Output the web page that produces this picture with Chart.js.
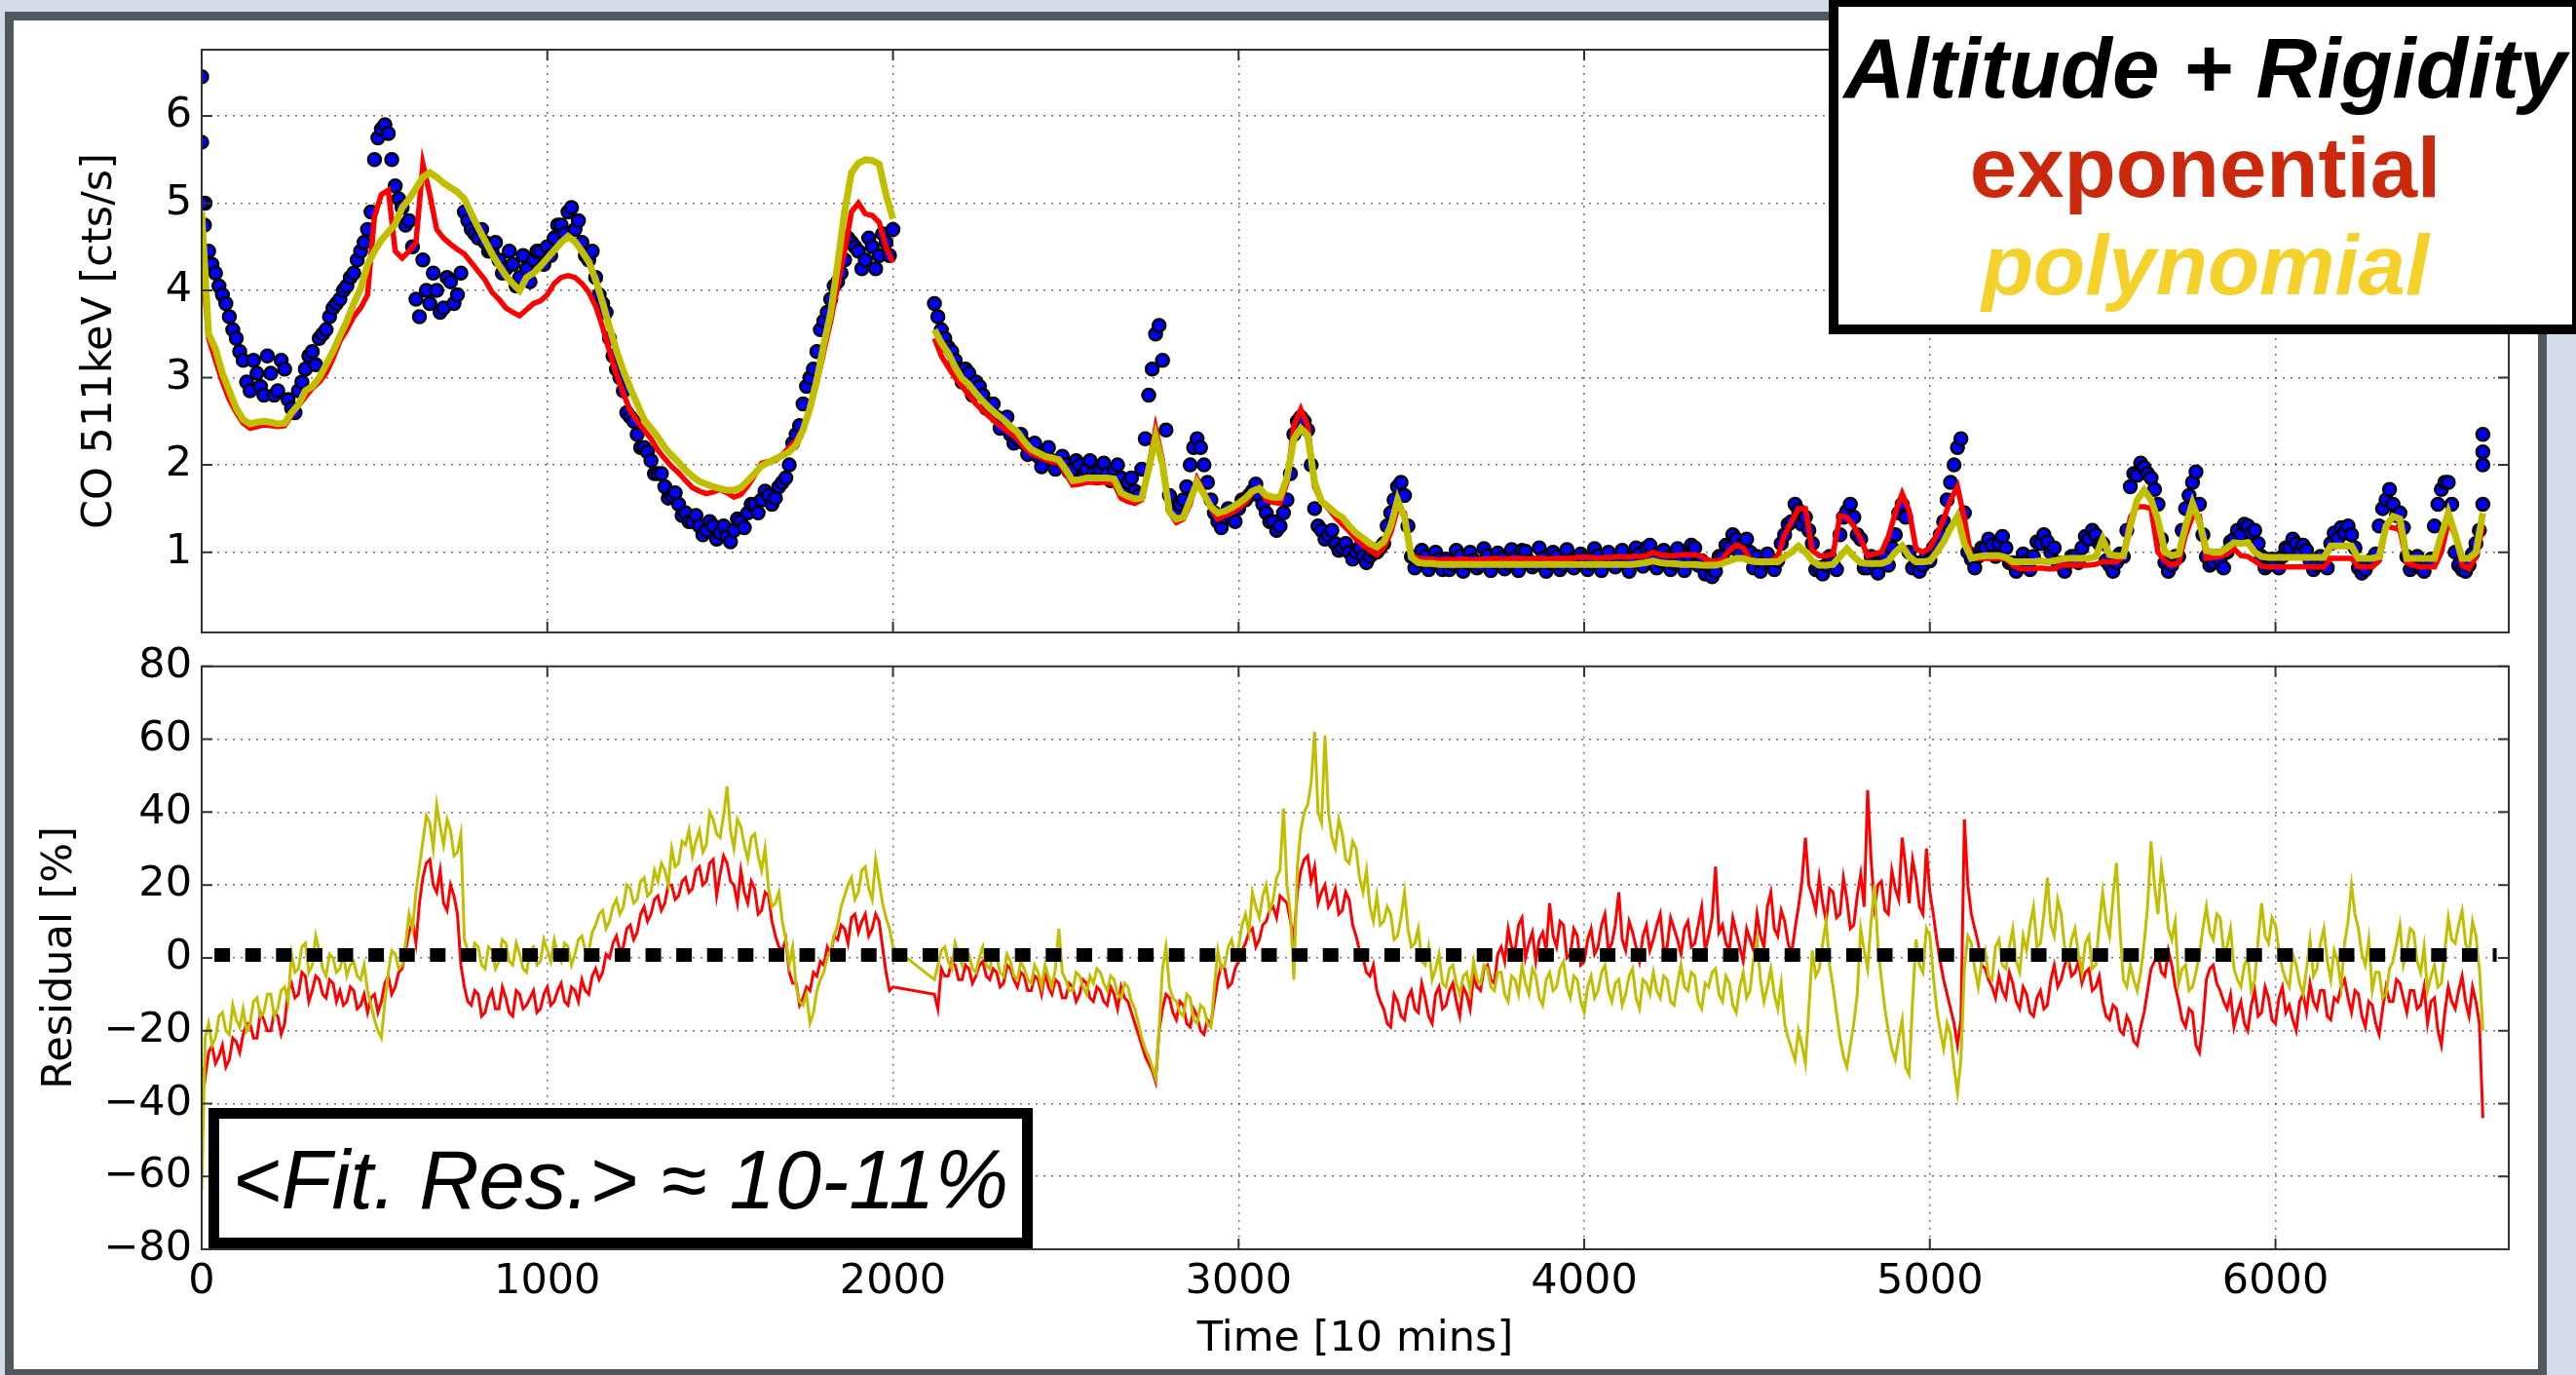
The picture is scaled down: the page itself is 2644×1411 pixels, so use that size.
<!DOCTYPE html>
<html lang="en">
<head>
  <meta charset="UTF-8">
  <title>CO 511keV rate: altitude + rigidity fits</title>
  <script src="https://cdn.jsdelivr.net/npm/chart.js@4.4.1/dist/chart.umd.min.js"></script>
  <style>
    html, body {
      margin: 0;
      padding: 0;
    }

    body {
      width: 2644px;
      height: 1411px;
      overflow: hidden;
      position: relative;
      background: #d3dce8;
    }

    #frame {
      position: absolute;
      left: 5px;
      top: 12px;
      width: 2609px;
      height: 1402px;
      box-sizing: border-box;
      border: 9px solid #51575f;
      background: #fff;
    }

    canvas {
      position: absolute;
      left: 0;
    }

    #topChart { top: 0; }
    #resChart { top: 648px; }

    .box {
      position: absolute;
      box-sizing: border-box;
      background: #fff;
      border: 10px solid #000;
    }

    #legendBox {
      left: 1877px;
      top: -3px;
      width: 773px;
      height: 346px;
    }

    #fitBox {
      left: 214px;
      top: 1137px;
      width: 846px;
      height: 144px;
      border-width: 11px;
    }

    .line {
      position: absolute;
      left: 0;
      width: 100%;
      text-align: center;
      white-space: nowrap;
      font-family: 'Liberation Sans', Arial, sans-serif;
      font-size: 87px;
      line-height: 87px;
      font-weight: bold;
    }

    #l1 { top: 19px; font-style: italic; color: #000; }
    #l2 { top: 121px; color: #cb290e; }
    #l3 { top: 221px; font-style: italic; color: #f4d22b; }

    #fitText {
      position: absolute;
      left: 0;
      top: 20px;
      width: 100%;
      text-align: center;
      white-space: nowrap;
      font-family: 'Liberation Sans', Arial, sans-serif;
      font-size: 85px;
      line-height: 85px;
      font-style: italic;
      color: #000;
    }
  </style>
</head>
<body>
  <div id="frame"></div>
  <canvas id="topChart" width="2644" height="690"></canvas>
  <canvas id="resChart" width="2644" height="763"></canvas>

  <div class="box" id="legendBox">
    <div class="line" id="l1">Altitude + Rigidity</div>
    <div class="line" id="l2">exponential</div>
    <div class="line" id="l3">polynomial</div>
  </div>
  <div class="box" id="fitBox">
    <div id="fitText">&lt;Fit. Res.&gt; ≈ 10-11%</div>
  </div>

  <script>
    // series are sampled every 20 time bins (10 min each) from t = 0;
    // the *_B arrays are the in-between samples at t = 10, 30, 50, ...
    const STEP = 20;
    const X_MAX = 6675;

    const X_TICKS = [0, 1000, 2000, 3000, 4000, 5000, 6000];
    const TOP_Y_TICKS = [1, 2, 3, 4, 5, 6];
    const RES_Y_TICKS = [-80, -60, -40, -20, 0, 20, 40, 60, 80];

    // measured CO 511 keV rate [cts/s]
    const RATE_511 = [
      6.45, 4.45, 4.2, 3.95, 3.7, 3.45, 3.2, 2.85, 3.05, 2.8,
      3.05, 2.85, 3.1, 2.65, 2.85, 3.1, 3.3, 3.45, 3.55, 3.8,
      3.9, 4.05, 4.2, 4.45, 4.7, 5.5, 5.85, 5.8, 5.2, 4.95,
      4.8, 3.9, 4.35, 3.85, 4.0, 3.8, 4.1, 3.95, 4.9, 4.7,
      4.6, 4.55, 4.45, 4.35, 4.25, 4.3, 4.15, 4.25, 4.35, 4.45,
      4.5, 4.6, 4.75, 4.9, 4.7, 4.55, 4.35, 4.15, 3.85, 3.45,
      3.1, 2.85, 2.55, 2.35, 2.2, 2.05, 1.9, 1.75, 1.65, 1.55,
      1.45, 1.35, 1.3, 1.25, 1.3, 1.22, 1.18, 1.25, 1.35, 1.45,
      1.55, 1.6, 1.65, 1.62, 1.8, 2.0, 2.35, 2.7, 3.0, 3.3,
      3.65, 3.9, 4.1, 4.35, 4.55, 4.45, 4.35, 4.5, 4.4, 4.55,
      4.7, null, null, null, null, null, 3.85, 3.55, 3.35, 3.2,
      2.95, 3.05, 2.95, 2.8, 2.65, 2.55, 2.5, 2.35, 2.3, 2.25,
      2.2, 2.1, 2.15, 2.05, 2.05, 2.0, 1.95, 2.0, 1.95, 1.9,
      1.95, 1.9, 1.95, 1.85, 1.8, 1.7, 1.95, 2.8, 3.5, 3.2,
      1.65, 1.45, 1.6, 2.0, 2.3, 2.0, 1.6, 1.35, 1.4, 1.4,
      1.5, 1.6, 1.7, 1.65, 1.45, 1.35, 1.3, 1.6, 2.35, 2.55,
      2.4, 1.5, 1.25, 1.2, 1.1, 1.05, 1.0, 1.0, 0.95, 0.95,
      1.0, 1.1, 1.45, 1.75, 1.65, 0.95, 0.9, 0.95, 0.88, 0.92,
      0.92, 0.86, 0.95, 0.88, 0.91, 0.85, 0.96, 0.89, 0.93, 0.87,
      0.94, 1.02, 0.9, 0.86, 0.93, 0.88, 0.95, 0.85, 0.91, 0.89,
      0.93, 0.87, 0.96, 0.9, 0.88, 0.94, 0.86, 0.92, 0.98, 1.05,
      0.95, 0.9, 0.94, 0.87, 0.92, 0.96, 1.05, 0.9, 0.85, 0.78,
      0.95, 1.05, 1.15, 1.1, 1.0, 0.95, 0.88, 0.85, 0.9, 1.2,
      1.35, 1.48, 1.4, 1.1, 0.82, 0.85, 0.88, 1.2, 1.47, 1.4,
      1.15, 0.82, 0.85, 0.9, 0.85, 1.2, 1.55, 1.0, 0.88, 0.85,
      0.9, 1.1, 1.35, 1.8, 2.2, 1.45, 0.92, 0.95, 1.05, 1.08,
      1.1, 1.05, 0.88, 0.85, 0.9, 0.95, 1.1, 1.12, 1.05, 0.85,
      0.88, 0.95, 1.05, 1.15, 1.2, 1.1, 0.85, 0.88, 0.95, 1.75,
      1.88, 1.97, 1.85, 1.55, 0.88, 0.85, 0.95, 1.5, 1.8, 1.55,
      0.95, 0.88, 0.9, 1.0, 1.15, 1.2, 1.3, 1.25, 0.95, 0.85,
      0.88, 0.95, 1.05, 1.1, 1.08, 0.9, 0.85, 0.9, 1.1, 1.15,
      1.22, 1.2, 0.82, 0.8, 0.92, 1.3, 1.6, 1.55, 1.45, 0.95,
      0.85, 0.82, 0.88, 1.3, 1.72, 1.8, 1.0, 0.8, 0.85, 1.1,
      2.35
    ];
    const RATE_511_B = [
      5.0, 4.3, 4.05, 3.85, 3.55, 3.3, 2.95, 3.2, 2.9, 3.25,
      2.8, 3.2, 2.75, 2.6, 2.95, 3.25, 3.15, 3.5, 3.7, 3.85,
      4.0, 4.15, 4.35, 4.55, 4.9, 5.75, 5.9, 5.5, 5.05, 4.75,
      4.5, 3.7, 4.0, 4.2, 3.75, 4.15, 3.85, 4.2, 4.8, 4.65,
      4.7, 4.45, 4.55, 4.2, 4.45, 4.05, 4.4, 4.1, 4.45, 4.3,
      4.4, 4.75, 4.65, 4.95, 4.8, 4.4, 4.45, 3.95, 3.75, 3.25,
      3.0, 2.6, 2.5, 2.2, 2.15, 1.9, 1.9, 1.62, 1.68, 1.42,
      1.35, 1.42, 1.2, 1.35, 1.15, 1.3, 1.12, 1.38, 1.28, 1.55,
      1.45, 1.7, 1.55, 1.75, 1.85, 2.25, 2.45, 2.9, 3.1, 3.55,
      3.75, 4.05, 4.2, 4.6, 4.5, 4.25, 4.6, 4.25, 4.65, 4.4,
      null, null, null, null, null, null, 3.7, 3.45, 3.3, 3.1,
      3.1, 2.8, 2.9, 2.65, 2.7, 2.42, 2.55, 2.25, 2.35, 2.12,
      2.25, 1.98, 2.2, 1.95, 2.1, 1.92, 2.05, 1.85, 2.05, 1.85,
      2.02, 1.82, 2.0, 1.75, 1.85, 1.65, 2.3, 3.1, 3.6, 2.4,
      1.5, 1.55, 1.75, 2.2, 2.2, 1.8, 1.45, 1.28, 1.5, 1.35,
      1.6, 1.65, 1.78, 1.55, 1.35, 1.25, 1.45, 1.9, 2.5, 2.5,
      2.0, 1.3, 1.15, 1.25, 1.02, 1.1, 0.92, 1.05, 0.88, 1.0,
      1.05, 1.3, 1.6, 1.8, 1.3, 0.82, 1.02, 0.8, 1.0, 0.8,
      0.8, 1.02, 0.78, 1.0, 0.82, 1.04, 0.79, 0.99, 0.81, 1.03,
      0.79, 1.01, 0.83, 1.05, 0.78, 1.0, 0.8, 1.03, 0.82, 0.98,
      0.8, 1.04, 0.79, 1.0, 0.83, 1.02, 0.78, 1.05, 0.84, 1.08,
      0.82, 1.02, 0.8, 1.04, 0.79, 1.08, 0.85, 0.75, 0.72, 0.95,
      1.08, 1.2, 0.98, 1.15, 0.82, 0.78, 0.98, 0.8, 1.1, 1.32,
      1.55, 1.32, 1.25, 0.8, 0.75, 0.95, 0.8, 1.4, 1.55, 1.2,
      0.82, 0.95, 0.76, 0.95, 1.05, 1.45, 1.4, 0.82, 0.78, 0.95,
      1.05, 1.2, 1.6, 2.0, 2.3, 1.0, 0.82, 1.05, 1.15, 0.95,
      1.18, 0.88, 0.78, 0.98, 0.8, 1.12, 1.2, 1.0, 0.88, 0.78,
      0.95, 0.88, 1.18, 1.25, 1.1, 0.9, 0.78, 0.98, 1.25, 1.9,
      2.02, 1.9, 1.72, 1.15, 0.78, 0.95, 1.25, 1.65, 1.92, 1.2,
      0.85, 0.95, 0.82, 1.12, 1.25, 1.32, 1.22, 1.1, 0.82, 0.92,
      0.82, 1.05, 1.15, 1.0, 1.02, 0.8, 0.95, 0.82, 1.22, 1.28,
      1.3, 1.05, 0.76, 0.88, 0.98, 1.5, 1.72, 1.42, 1.28, 0.8,
      0.95, 0.78, 0.92, 1.55, 1.8, 1.55, 0.85, 0.78, 0.98, 1.25,
      null
    ];
    // a few extra rate points that sit off the sampling grid
    const RATE_EXTRA_T = [0, 0, 8, 6600, 6600, 6600];
    const RATE_EXTRA_V = [5.7, 5.0, 4.75, 2.15, 2.0, 1.55];

    // exponential model
    const FIT_EXP = [
      4.4, 3.45, 3.2, 2.95, 2.75, 2.6, 2.48, 2.42, 2.44, 2.46,
      2.45, 2.44, 2.45, 2.57, 2.68, 2.78, 2.88, 2.95, 3.05, 3.22,
      3.42, 3.55, 3.7, 3.8, 3.95, 4.85, 5.1, 5.15, 4.45, 4.37,
      4.45, 4.55, 5.45, 5.1, 4.7, 4.6, 4.53, 4.47, 4.42, 4.32,
      4.22, 4.12, 3.98, 3.9, 3.8, 3.75, 3.71, 3.78, 3.85, 3.88,
      3.95, 4.08, 4.15, 4.17, 4.15, 4.08, 3.98, 3.82, 3.58, 3.3,
      3.04, 2.82, 2.62, 2.5, 2.4, 2.3, 2.17, 2.07, 1.98, 1.91,
      1.82, 1.74, 1.7, 1.67, 1.69, 1.72, 1.68, 1.63, 1.66, 1.76,
      1.88, 2.02, 2.04, 2.05, 2.12, 2.2, 2.28, 2.42, 2.65, 2.95,
      3.3, 3.65, 4.05, 4.45, 4.9, 5.0, 4.88, 4.86, 4.78, 4.5,
      4.32, null, null, null, null, null, 3.45, 3.25, 3.12, 3.0,
      2.9, 2.8, 2.7, 2.62, 2.55, 2.48, 2.42, 2.36, 2.3, 2.2,
      2.13, 2.1, 2.06, 2.04, 2.02, 1.9, 1.77, 1.78, 1.8, 1.8,
      1.8, 1.8, 1.78, 1.62, 1.58, 1.56, 1.6, 1.98, 2.42, 2.05,
      1.46, 1.34, 1.38, 1.55, 1.84, 1.68, 1.5, 1.38, 1.42, 1.45,
      1.5, 1.57, 1.68, 1.74, 1.6, 1.57, 1.56, 1.8, 2.45, 2.64,
      2.45, 1.75, 1.58, 1.5, 1.4, 1.32, 1.24, 1.15, 1.08, 1.02,
      0.97, 1.05, 1.22, 1.5, 1.45, 0.97, 0.93, 0.92, 0.92, 0.91,
      0.92, 0.91, 0.92, 0.92, 0.91, 0.92, 0.92, 0.93, 0.92, 0.92,
      0.93, 0.93, 0.92, 0.93, 0.93, 0.92, 0.93, 0.93, 0.93, 0.94,
      0.94, 0.94, 0.93, 0.94, 0.94, 0.95, 0.94, 0.95, 0.95, 0.96,
      1.0, 0.97, 0.96, 0.96, 0.97, 0.97, 0.97, 0.95, 0.9, 0.9,
      0.92, 1.02, 1.08, 1.05, 0.92, 0.9, 0.9, 0.9, 0.95, 1.2,
      1.35, 1.5, 1.5, 1.02, 0.96, 0.96, 0.98, 1.42, 1.4, 1.3,
      1.15, 0.96, 0.98, 1.0, 1.18, 1.45, 1.67, 1.48, 1.04, 1.0,
      1.05, 1.2, 1.38, 1.6, 1.75, 1.38, 0.93, 0.93, 0.93, 0.93,
      0.93, 0.92, 0.85, 0.81, 0.81, 0.81, 0.82, 0.81, 0.81, 0.85,
      0.85, 0.85, 0.85, 0.85, 0.86, 0.89, 0.89, 0.89, 0.95, 1.4,
      1.52, 1.52, 1.5, 1.0, 0.9, 0.85, 0.88, 1.2, 1.41, 1.41,
      0.93, 0.94, 0.95, 0.98, 1.04, 0.96, 0.95, 0.9, 0.84, 0.83,
      0.83, 0.83, 0.83, 0.83, 0.83, 0.83, 0.83, 0.83, 0.93, 0.93,
      0.93, 0.93, 0.83, 0.83, 0.83, 0.9, 1.3, 1.28, 1.26, 0.88,
      0.85, 0.83, 0.83, 0.83, 1.0, 1.34, 1.2, 0.85, 0.81, 0.95,
      1.3
    ];

    // polynomial model
    const FIT_POLY = [
      4.9, 3.5, 3.33, 3.05, 2.85, 2.65, 2.52, 2.47, 2.49, 2.5,
      2.49, 2.47, 2.48, 2.6, 2.69, 2.85, 2.9, 3.0, 3.15, 3.3,
      3.48, 3.65, 3.85, 4.02, 4.3, 4.45, 4.58, 4.67, 4.76, 4.95,
      5.05, 5.17, 5.3, 5.35, 5.3, 5.23, 5.18, 5.13, 5.05, 4.88,
      4.72, 4.57, 4.42, 4.29, 4.17, 4.08, 4.0, 4.15, 4.2, 4.28,
      4.37, 4.46, 4.55, 4.62, 4.56, 4.45, 4.33, 4.12, 3.86, 3.58,
      3.31, 3.08, 2.88, 2.7, 2.52, 2.42, 2.32, 2.2, 2.11, 2.03,
      1.94, 1.87, 1.81, 1.78, 1.75, 1.73, 1.71, 1.71, 1.74, 1.82,
      1.9, 1.99, 2.03, 2.07, 2.11, 2.15, 2.23, 2.4, 2.65, 2.98,
      3.38, 3.75, 4.3, 4.9, 5.35, 5.46, 5.5, 5.49, 5.45, 5.1,
      4.82, null, null, null, null, null, 3.55, 3.4, 3.28, 3.12,
      2.99, 2.92, 2.82, 2.73, 2.65, 2.58, 2.52, 2.44, 2.38, 2.27,
      2.18, 2.14, 2.1, 2.08, 2.06, 1.95, 1.82, 1.83, 1.85, 1.85,
      1.85, 1.85, 1.84, 1.68, 1.64, 1.61, 1.62, 1.95, 2.32, 2.0,
      1.46, 1.38, 1.4, 1.6, 1.8, 1.66, 1.52, 1.45, 1.47, 1.51,
      1.56, 1.62, 1.7, 1.73, 1.65, 1.63, 1.63, 1.85, 2.3, 2.42,
      2.34, 1.8, 1.58, 1.52, 1.45, 1.4, 1.3, 1.22, 1.16, 1.1,
      1.06, 1.12, 1.3, 1.6, 1.4, 0.94, 0.88, 0.87, 0.87, 0.86,
      0.86, 0.86, 0.86, 0.86, 0.86, 0.86, 0.86, 0.86, 0.86, 0.86,
      0.86, 0.86, 0.86, 0.86, 0.86, 0.86, 0.86, 0.86, 0.86, 0.86,
      0.86, 0.86, 0.86, 0.86, 0.86, 0.86, 0.86, 0.86, 0.87, 0.88,
      0.9, 0.88, 0.87, 0.87, 0.86, 0.86, 0.86, 0.85, 0.85, 0.85,
      0.87, 0.9, 0.93, 0.93, 0.9, 0.89, 0.89, 0.89, 0.89, 0.95,
      1.0, 1.07, 1.0, 0.9, 0.85, 0.85, 0.86, 0.95, 1.04, 0.95,
      0.88, 0.87, 0.87, 0.87, 0.9, 1.0, 1.07, 0.95, 0.89, 0.89,
      0.9, 1.0, 1.12, 1.28, 1.41, 1.1, 0.93, 0.95, 0.96, 0.96,
      0.96, 0.94, 0.89, 0.89, 0.89, 0.89, 0.9, 0.89, 0.9, 0.92,
      0.93, 0.93, 0.93, 0.93, 0.95, 1.15, 0.97, 0.96, 0.96, 1.3,
      1.6, 1.71, 1.6, 1.37, 1.0, 0.96, 0.98, 1.3, 1.56, 1.35,
      1.02, 1.0, 1.0, 1.05, 1.11, 1.1, 1.11, 1.0, 0.95, 0.94,
      0.94, 0.94, 0.94, 0.94, 0.94, 0.94, 0.94, 0.94, 1.07, 1.07,
      1.07, 1.07, 0.93, 0.93, 0.93, 0.95, 1.3, 1.41, 1.38, 0.93,
      0.93, 0.93, 0.93, 0.93, 1.2, 1.45, 1.2, 0.93, 0.93, 1.0,
      1.45
    ];

    // residuals of the exponential model [%]
    const RES_EXP = [
      -30, -26, -29, -24, -28, -23, -21, -18, -22, -17,
      -20, -16, -18, -7, -10, -5, -9, -6, -11, -7,
      -9, -12, -9, -13, -15, -10, -12, -5, -8, -3,
      7, 4, 22, 27, 18, 15, 20, 12, -8, -13,
      -10, -15, -9, -14, -11, -16, -10, -13, -9, -14,
      -8, -12, -7, -13, -9, -6, -10, -3, -4, 0,
      6, 3, 9, 7, 14, 12, 17, 15, 20, 17,
      22, 19, 25, 21, 27, 23, 26, 20, 24, 15,
      19, 13, 17, 6, 2, -4, -7, -11, -9, -5,
      -2, 1, 5, 8, 11, 7, 12, 8, 10, -4,
      -8, null, null, null, null, null, -10, -3, -5, -2,
      -6, -3, -5, -1, -6, -4, -7, -3, -8, -5,
      -9, -6, -4, -10, -7, -11, -8, -10, -7, -12,
      -9, -13, -10, -8, -12, -18, -24, -29, -34, -14,
      -11, -17, -13, -19, -16, -21, -18, -6, -3, -7,
      -1, 4, 8, 5, 10, 14, 17, 15, 5, 24,
      28, 25, 18, 14, 19, 13, 16, 6, 0, -5,
      -9, -14, -19, -12, -17, -9, -15, -11, -18, -8,
      -13, -7, -16, -10, -5, -9, -2, -7, 3, 8,
      2, 11, 4, -1, 7, 15, 3, 9, 1, 6,
      -1, 8, 3, 12, 4, 18, 2, 7, -1, 9,
      5, 12, 3, 8, 1, 10, 4, 14, 6, 25,
      9, 2, 7, -1, 5, 12, 3, 18, 6, 10,
      1, 14, 33, 17, 22, 10, 18, 12, 16, 9,
      23, 46, 14, 21, 12, 19, 33, 15, 22, 12,
      18, 5, -6, -14, -24, 38, 12, 4, -3, -8,
      -5, -11, -7, -14, -10, -16, -9, -13, -2, -6,
      0, -4, -7, -3, -8, -12, -17, -14, -21, -18,
      -24, -15, -3, 1, -5, -2, -12, -19, -15, -26,
      -6, -2, -9, -14, -19, -12, -20, -9, -15, -11,
      -18, -8, -13, -20, -10, -7, -14, -9, -17, -12,
      -6, -15, -10, -19, -13, -21, -8, -12, -7, -15,
      -9, -13, -18, -11, -24, -8, -14, -5, -16, -12,
      -44
    ];
    const RES_EXP_B = [
      -33, -24, -27, -30, -22, -26, -18, -22, -15, -20,
      -15, -21, -9, -11, -4, -12, -5, -10, -6, -12,
      -13, -8, -14, -10, -11, -15, -7, -10, -4, 2,
      10, 15, 26, 20, 24, 13, 17, -2, -12, -9,
      -16, -11, -14, -8, -15, -9, -14, -11, -15, -10,
      -13, -9, -12, -8, -12, -9, -5, -6, 1, 4,
      2, 8, 5, 12, 10, 16, 13, 20, 16, 21,
      18, 24, 20, 26, 17, 28, 21, 15, 18, 21,
      12, 18, 10, 3, 5, -7, -13, -8, -4, -1,
      3, 6, 9, 4, 12, 10, 6, 12, 3, -9,
      null, null, null, null, null, null, -14, -5, -1, -6,
      -2, -7, -2, -5, -3, -8, -2, -6, -4, -9,
      -5, -10, -8, -6, -11, -7, -12, -6, -11, -8,
      -12, -8, -14, -11, -15, -21, -27, -31, -20, -10,
      -15, -12, -18, -14, -20, -17, -12, -2, -8, -3,
      2, 7, 3, 9, 13, 11, 16, 10, 18, 27,
      21, 15, 20, 16, 12, 18, 9, 2, -4, -2,
      -12, -18, -10, -16, -11, -14, -7, -16, -10, -14,
      -9, -12, -8, -14, -8, -3, -6, 1, -1, 3,
      9, 0, 7, 5, 2, 6, 10, 0, 8, -2,
      5, 1, 9, 2, 9, 5, 10, 3, 6, 2,
      9, 2, 11, 5, 8, 3, 9, 2, 11, 7,
      4, 11, 3, 8, 2, 6, 14, 8, 13, 4,
      8, 21, 20, 13, 15, 19, 11, 22, 8, 17,
      14, 27, 20, 13, 24, 16, 25, 27, 14, 30,
      12, -1, -10, -18, -17, 20, 8, -2, -6, -11,
      -9, -4, -12, -8, -15, -11, -14, -6, -8, -2,
      -5, -1, -4, -9, -5, -16, -13, -20, -16, -23,
      -19, -9, -1, -4, 2, -8, -17, -14, -24, -18,
      -3, -7, -12, -10, -15, -18, -13, -16, -8, -17,
      -11, -15, -17, -12, -15, -12, -9, -16, -11, -8,
      -11, -9, -16, -12, -18, -14, -12, -6, -11, -9,
      -14, -8, -12, -20, -15, -12, -9, -12, -8, -18,
      null
    ];

    // residuals of the polynomial model [%]
    const RES_POLY = [
      -64, -18, -22, -15, -21, -17, -14, -18, -11, -15,
      -10, -14, -8, 1, -3, 4, -2, 2, -5, 0,
      -3, -5, -1, -6, -9, -17, -22, -4, 1, -2,
      12, 18, 32, 37, 42, 31, 35, 29, 5, 0,
      3, -3, 2, -1, 4, -2, 1, -4, 3, -1,
      2, 5, -1, 3, 1, 6, 2, 9, 13, 10,
      16, 14, 19, 16, 22, 18, 21, 24, 30, 26,
      31, 28, 35, 31, 38, 33, 47, 30, 36, 27,
      34, 24, 19, 15, 10, -2, -8, -13, -18, -9,
      -4, 2, 9, 17, 22, 18, 25, 16, 21, 11,
      3, null, null, null, null, null, -6, 2, -1, 4,
      -2, 1, -4, 3, -3, 0, -5, -1, -6, -3,
      -7, -4, -2, -8, 8, -6, -9, -5, -10, -7,
      -4, -9, -6, -11, -8, -14, -22, -27, -33, -3,
      -8, -12, -16, -11, -18, -14, -19, 2, -2, 5,
      3, 12, 18, 11, 20, 16, 24, 20, -6, 35,
      42, 62, 37, 40, 30, 34, 26, 30, 18, 14,
      17, 10, 12, 6, 18, 3, 8, -2, -6, 1,
      -8, -2, -10, -4, -1, -7, -3, -9, -4, -12,
      -6, -2, -10, -5, -13, -4, -8, -1, -11, -6,
      -15, -5, -9, -2, -12, -6, -10, -3, -14, -7,
      -4, -11, -6, -13, -2, -9, -5, -14, -8, -3,
      -12, -7, -15, -4, -9, 5, -12, -3, -14, -18,
      -25, -20, -29, 2, -3, 10, -8, -22, -30, -18,
      8, -3, 20, -6, -20, -28, -17, -32, 5, -4,
      6, -14, -25, -21, -37, -3, 4, -8, 2, -6,
      5, -3, 8, -4, 2, 14, 4, 22, 6, 12,
      -1, 8, -4, 6, -2, 18, 6, 26, -6, -2,
      -9, 4, 32, 12, 18, 5, -7, -2, -8, 1,
      14, 5, 11, 3, -3, -8, 0, -6, 15, 4,
      9, -3, -8, -2, -10, 5, -3, 8, -6, -1,
      4, 20, 8, -2, -9, -4, -10, -1, 9, 2,
      7, -4, -9, -2, -7, 11, 4, 13, 1, 6,
      -20
    ];
    const RES_POLY_B = [
      -22, -24, -16, -20, -13, -19, -20, -12, -16, -10,
      -16, -9, -12, -4, 3, -4, 6, -3, 1, -4,
      1, -2, -5, -2, -13, -20, -12, 2, -3, 4,
      8, 25, 39, 30, 36, 38, 28, 34, 2, 4,
      -2, 3, -3, 5, -1, 4, -3, 2, -2, 5,
      -1, 1, 4, -2, 5, 2, 7, 12, 8, 14,
      12, 20, 15, 21, 17, 24, 26, 20, 25, 32,
      35, 32, 29, 40, 34, 39, 35, 38, 31, 33,
      28, 30, 14, 18, 5, 3, -12, -10, -15, -6,
      0, 6, 14, 20, 16, 24, 19, 27, 15, 8,
      null, null, null, null, null, null, -2, 3, -3, 1,
      2, -3, 0, -2, 1, -4, 1, -5, -1, -6,
      -2, -8, -5, -3, -4, -9, -4, -8, -5, -3,
      -7, -5, -10, -7, -12, -18, -25, -30, -20, 3,
      -11, -15, -10, -17, -13, -18, -8, -3, 3, 0,
      9, 7, 14, 17, 13, 22, 41, 12, 25, 40,
      48, 40, 61, 33, 38, 27, 32, 22, 24, 10,
      9, 14, 5, 11, 8, 4, -1, 3, -3, -7,
      -3, -7, -5, -9, -6, -2, -8, -4, -10, -5,
      -10, -7, -3, -11, -6, -9, -3, -8, -5, -12,
      -8, -11, -4, -9, -7, -13, -5, -11, -6, -10,
      -9, -5, -12, -7, -8, -4, -12, -7, -4, -10,
      -5, -13, -8, -11, 0, -6, -8, -10, -7, -22,
      -28, -24, -14, -5, 4, -2, -15, -27, -24, -10,
      2, 10, 3, -14, -25, -22, -30, -12, -2, 8,
      -5, -20, -18, -30, -28, 6, -3, -1, -5, 3,
      -2, 3, -1, 6, 9, 3, 12, 9, 16, 3,
      5, 1, 4, -3, 9, 10, 17, 8, -8, -6,
      -4, 14, 20, 25, 8, 10, -3, -9, -4, 8,
      7, 12, 2, 8, -6, -2, -9, 5, 6, 11,
      2, -6, 1, -7, -3, -5, 4, -1, 2, -8,
      10, 12, 1, 5, -4, -11, -3, 4, -2, 8,
      -1, 3, -5, -8, 2, 5, 9, 4, 10, -3,
      null
    ];

    // thick dotted reference line in the residual panel
    const BASELINE_T = [37, 6640];
    const BASELINE_V = [0.8, 0.8];

    const RED = '#ff0000';
    const OLIVE = 'rgb(191, 191, 0)';
    const AXIS_COLOR = '#333';
    const TICK_FONT = { family: 'DejaVu Sans', size: 43 };

    function toPoints(values) {
      return values.map((v, i) => ({ x: i * STEP, y: v }));
    }

    // merge the on-grid and in-between samples into one time ordered series
    function interleave(a, b) {
      const out = [];
      a.forEach((v, i) => {
        out.push({ x: i * STEP, y: v });
        if (i < b.length) out.push({ x: i * STEP + STEP / 2, y: b[i] });
      });
      return out;
    }

    function pairPoints(xs, ys) {
      return xs.map((x, i) => ({ x: x, y: ys[i] }));
    }

    function fmtTick(v) {
      return v < 0 ? '\u2212' + Math.abs(v) : String(v);
    }

    // box round the plot area plus matplotlib-style inward ticks
    const frameTicks = {
      id: 'frameTicks',
      afterDraw(chart) {
        const { ctx, chartArea: a, scales } = chart;
        const len = 11;
        ctx.save();
        ctx.strokeStyle = AXIS_COLOR;
        ctx.lineWidth = 2;
        ctx.strokeRect(a.left, a.top, a.right - a.left, a.bottom - a.top);
        ctx.beginPath();
        scales.x.ticks.forEach(t => {
          const px = scales.x.getPixelForValue(t.value);
          ctx.moveTo(px, a.bottom); ctx.lineTo(px, a.bottom - len);
          ctx.moveTo(px, a.top); ctx.lineTo(px, a.top + len);
        });
        scales.y.ticks.forEach(t => {
          const py = scales.y.getPixelForValue(t.value);
          ctx.moveTo(a.left, py); ctx.lineTo(a.left + len, py);
          ctx.moveTo(a.right, py); ctx.lineTo(a.right - len, py);
        });
        ctx.stroke();
        ctx.restore();
      }
    };

    function gridOpts() {
      return { color: 'rgba(0,0,0,0.55)', lineWidth: 1.5, drawTicks: false };
    }

    function xScale(showLabels, height) {
      return {
        type: 'linear',
        min: 0,
        max: X_MAX,
        afterBuildTicks: s => { s.ticks = X_TICKS.map(v => ({ value: v })); },
        afterFit: s => { s.height = height; },
        grid: gridOpts(),
        border: { display: false, dash: [2, 6] },
        ticks: {
          display: showLabels,
          padding: 8,
          color: '#000',
          font: TICK_FONT,
          maxRotation: 0,
          callback: v => fmtTick(v)
        },
        title: {
          display: showLabels,
          text: 'Time [10 mins]',
          color: '#000',
          font: TICK_FONT,
          padding: { top: 0, bottom: 10 }
        }
      };
    }

    function yScale(min, max, tickList, title, titleOffset) {
      return {
        type: 'linear',
        min: min,
        max: max,
        afterBuildTicks: s => { s.ticks = tickList.map(v => ({ value: v })); },
        afterFit: s => { s.width = 207; },
        grid: gridOpts(),
        border: { display: false, dash: [2, 6] },
        ticks: {
          padding: 10,
          color: '#000',
          font: TICK_FONT,
          callback: v => fmtTick(v)
        },
        title: {
          display: true,
          text: title,
          color: '#000',
          font: TICK_FONT,
          padding: { top: titleOffset, bottom: 0 }
        }
      };
    }

    const common = {
      responsive: false,
      animation: false,
      devicePixelRatio: 1,
      events: [],
      plugins: { legend: { display: false }, tooltip: { enabled: false } }
    };

    new Chart(document.getElementById('topChart'), {
      type: 'line',
      data: {
        datasets: [
          {
            label: 'polynomial',
            data: toPoints(FIT_POLY),
            borderColor: OLIVE,
            borderWidth: 7,
            pointRadius: 0,
            spanGaps: false,
            order: 0
          },
          {
            label: 'exponential',
            data: toPoints(FIT_EXP),
            borderColor: RED,
            borderWidth: 5.5,
            pointRadius: 0,
            spanGaps: false,
            order: 1
          },
          {
            label: 'CO 511keV',
            data: interleave(RATE_511, RATE_511_B).concat(pairPoints(RATE_EXTRA_T, RATE_EXTRA_V)),
            showLine: false,
            pointRadius: 6.5,
            pointBackgroundColor: '#0000ff',
            pointBorderColor: '#000',
            pointBorderWidth: 2.5,
            order: 2
          }
        ]
      },
      options: Object.assign({}, common, {
        layout: { padding: { left: 0, right: 69, top: 51, bottom: 0 } },
        scales: {
          x: xScale(false, 41),
          y: yScale(0.08, 6.76, TOP_Y_TICKS, 'CO 511keV [cts/s]', 77)
        }
      }),
      plugins: [frameTicks]
    });

    new Chart(document.getElementById('resChart'), {
      type: 'line',
      data: {
        datasets: [
          {
            label: 'zero',
            data: pairPoints(BASELINE_T, BASELINE_V),
            borderColor: '#000',
            borderWidth: 14,
            borderDash: [16, 15.6],
            borderCapStyle: 'butt',
            pointRadius: 0,
            order: 0
          },
          {
            label: 'polynomial residual',
            data: interleave(RES_POLY, RES_POLY_B),
            borderColor: OLIVE,
            borderWidth: 3,
            pointRadius: 0,
            spanGaps: true,
            order: 1
          },
          {
            label: 'exponential residual',
            data: interleave(RES_EXP, RES_EXP_B),
            borderColor: RED,
            borderWidth: 3,
            pointRadius: 0,
            spanGaps: true,
            order: 2
          }
        ]
      },
      options: Object.assign({}, common, {
        layout: { padding: { left: 0, right: 69, top: 0, bottom: 0 } },
        scales: {
          x: xScale(true, 129),
          y: yScale(-80, 80, RES_Y_TICKS, 'Residual [%]', 36)
        }
      }),
      plugins: [frameTicks]
    });
  </script>
</body>
</html>
